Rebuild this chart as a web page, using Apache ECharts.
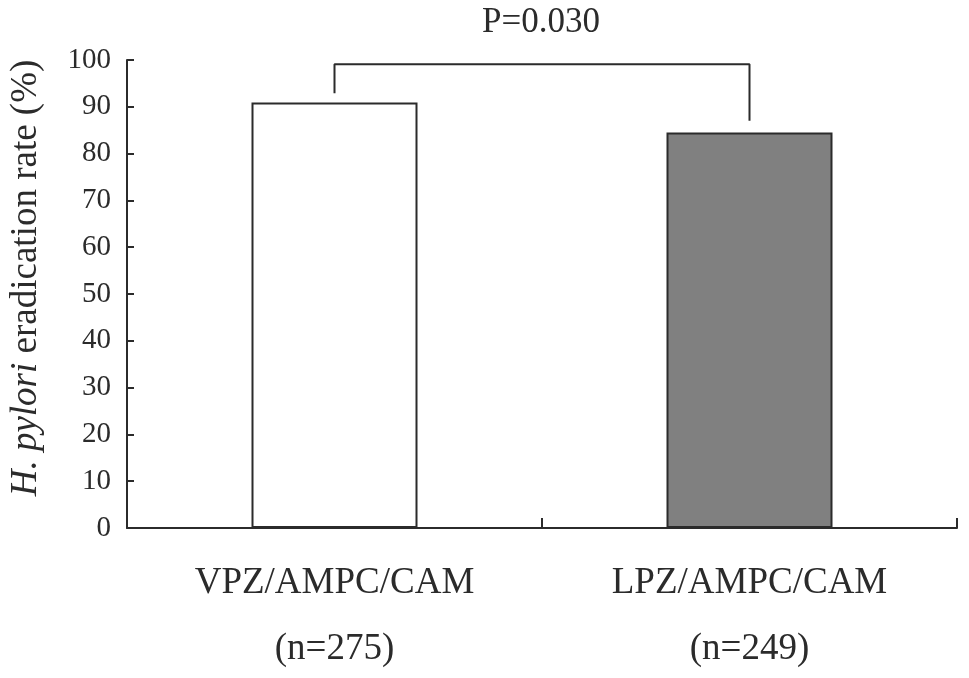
<!DOCTYPE html>
<html>
<head>
<meta charset="utf-8">
<script src="https://cdn.jsdelivr.net/npm/echarts@6/dist/echarts.min.js"></script>
<style>
  html, body { margin: 0; padding: 0; background: #fff; }
  #main { width: 969px; height: 678px; }
</style>
</head>
<body>
<div id="main"></div>
<script>
// data
var categories = ["VPZ/AMPC/CAM", "LPZ/AMPC/CAM"];
var sampleSizes = ["(n=275)", "(n=249)"];
var eradicationRate = [90.9, 84.5];
var barColors = ["#ffffff", "#808080"];
// significance bracket: [category index, value]
var bracketPoints = [[0, 92.9], [0, 99.1], [1, 99.1], [1, 87.0]];
var pLabel = "P=0.030";

var serif = "Liberation Serif, Times New Roman, serif";
var ink = "#2b2b2b";

var myChart = echarts.init(document.getElementById("main"));
myChart.setOption({
  animation: false,
  grid: { left: 127, right: 12, top: 60, bottom: 150, outerBoundsMode: "none" },
  graphic: [
    {
      type: "text",
      x: 541, y: 23,
      style: {
        text: pLabel,
        font: "35px " + serif,
        fill: ink,
        textAlign: "center",
        textVerticalAlign: "middle"
      }
    }
  ],
  xAxis: {
    type: "category",
    data: categories,
    axisLine: { lineStyle: { color: ink, width: 2 } },
    axisTick: { show: true, interval: 0, inside: true, length: 10, lineStyle: { color: ink, width: 2 } },
    axisLabel: {
      margin: 22,
      color: ink,
      fontFamily: serif,
      fontSize: 37,
      lineHeight: 66,
      formatter: function (v, i) {
        return v + "\n" + sampleSizes[i];
      }
    }
  },
  yAxis: {
    type: "value",
    min: 0, max: 100, interval: 10,
    name: "{i|H. pylori} eradication rate (%)",
    nameLocation: "middle",
    nameGap: 82,
    nameTextStyle: {
      color: ink,
      fontFamily: serif,
      fontSize: 37,
      // nudge the rotated title upwards a little, as in the figure
      padding: [0, 0, 0, 32],
      rich: {
        i: { fontStyle: "italic", fontFamily: serif, fontSize: 37, color: ink }
      }
    },
    axisLine: { show: true, lineStyle: { color: ink, width: 2 } },
    axisTick: { show: true, inside: true, length: 7, lineStyle: { color: ink, width: 2 } },
    splitLine: { show: false },
    axisLabel: { margin: 16, color: ink, fontFamily: serif, fontSize: 29 }
  },
  series: [
    {
      type: "bar",
      barWidth: "40%",
      data: eradicationRate.map(function (v, i) {
        return { value: v, itemStyle: { color: barColors[i] } };
      }),
      itemStyle: { borderColor: ink, borderWidth: 2 }
    },
    {
      type: "line",
      data: bracketPoints,
      symbol: "none",
      silent: true,
      lineStyle: { color: ink, width: 2 }
    }
  ]
});
</script>
</body>
</html>
